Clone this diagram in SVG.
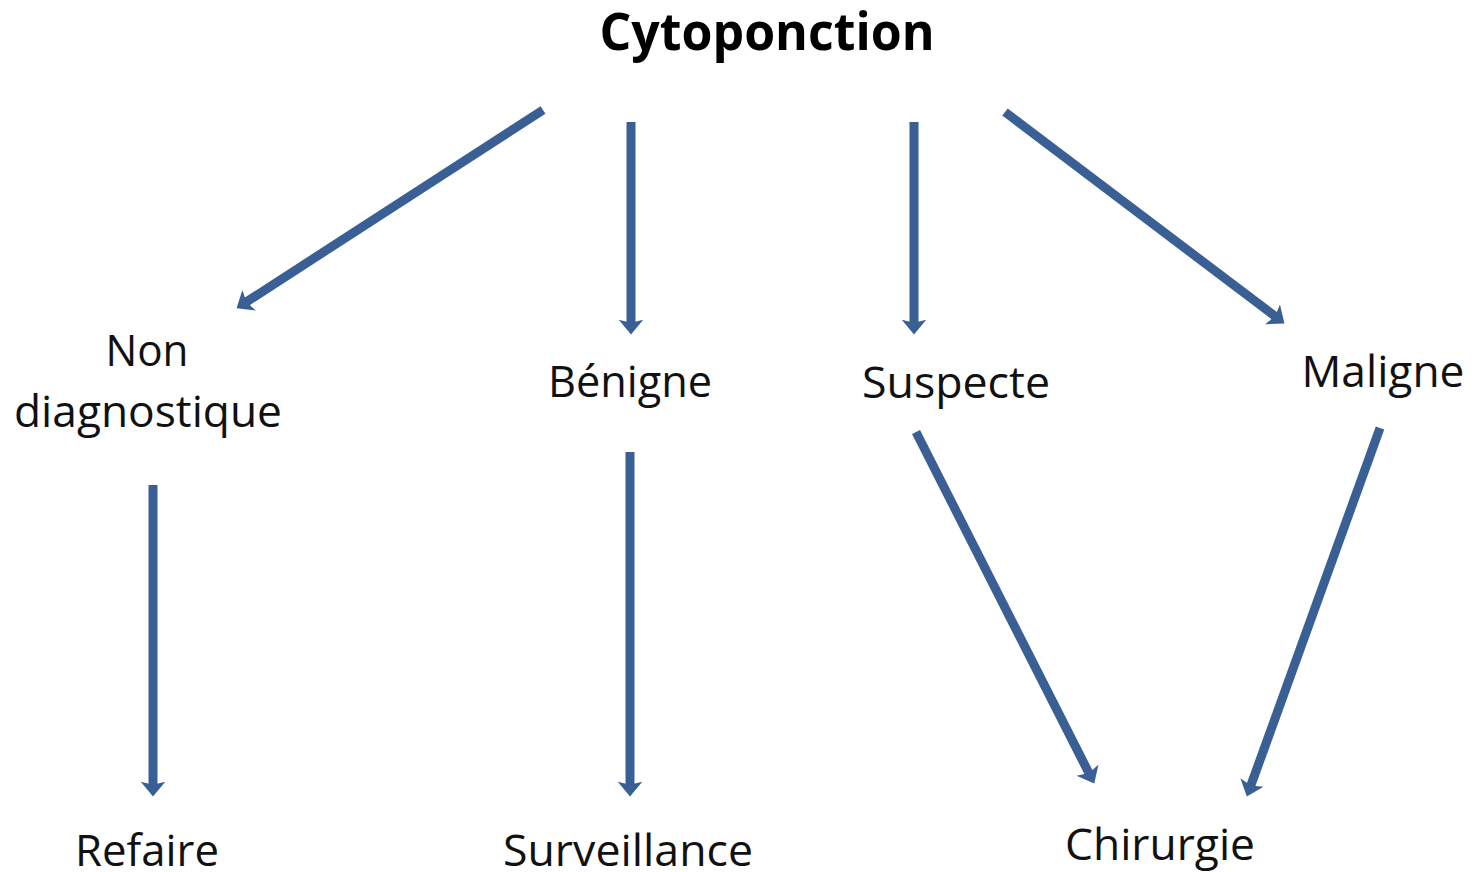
<svg xmlns="http://www.w3.org/2000/svg" width="1480" height="872" viewBox="0 0 1480 872">
  <style>
    .lbl { font-family: "Open Sans", "Liberation Sans", sans-serif; font-size: 44px; fill: #111; text-anchor: middle; }
    .title { font-family: "Open Sans", "Liberation Sans", sans-serif; font-size: 52px; font-weight: bold; fill: #000; text-anchor: middle; }
    .arrow { stroke: #3a5f94; stroke-width: 9; fill: none; stroke-linecap: butt; marker-end: url(#head); }
  </style>
  <defs>
    <marker id="head" markerUnits="userSpaceOnUse" markerWidth="16" markerHeight="26" viewBox="0 -12 15 24" refX="5" refY="0" orient="auto" overflow="visible">
      <path d="M0,-11.5 L14,0 L0,11.5 L3,0 Z" fill="#3a5f94"/>
    </marker>
  </defs>
  <rect width="1480" height="872" fill="#fff"/>

  <g id="connectors">
    <line class="arrow" x1="543" y1="110" x2="244.6" y2="303.1"/>
    <line class="arrow" x1="631" y1="122" x2="631" y2="325"/>
    <line class="arrow" x1="914" y1="122" x2="914" y2="325"/>
    <line class="arrow" x1="1005" y1="112" x2="1276.8" y2="317.6"/>
    <line class="arrow" x1="153" y1="485" x2="153" y2="787"/>
    <line class="arrow" x1="630" y1="452" x2="630" y2="787"/>
    <line class="arrow" x1="916" y1="432" x2="1089.9" y2="775"/>
    <line class="arrow" x1="1380" y1="428" x2="1250.1" y2="787.5"/>
  </g>

  <g id="cytoponction">
    <text class="title" x="767" y="50" textLength="335" lengthAdjust="spacingAndGlyphs">Cytoponction</text>
  </g>
  <g id="non-diagnostique">
    <text class="lbl" x="147" y="366" textLength="83" lengthAdjust="spacingAndGlyphs">Non</text>
    <text class="lbl" x="148" y="427" textLength="268" lengthAdjust="spacingAndGlyphs">diagnostique</text>
  </g>
  <g id="benigne">
    <text class="lbl" x="630" y="397" textLength="164" lengthAdjust="spacingAndGlyphs">Bénigne</text>
  </g>
  <g id="suspecte">
    <text class="lbl" x="956" y="398" textLength="188" lengthAdjust="spacingAndGlyphs">Suspecte</text>
  </g>
  <g id="maligne">
    <text class="lbl" x="1383" y="387" textLength="163" lengthAdjust="spacingAndGlyphs">Maligne</text>
  </g>
  <g id="refaire">
    <text class="lbl" x="147" y="866" textLength="144" lengthAdjust="spacingAndGlyphs">Refaire</text>
  </g>
  <g id="surveillance">
    <text class="lbl" x="628" y="866" textLength="250" lengthAdjust="spacingAndGlyphs">Surveillance</text>
  </g>
  <g id="chirurgie">
    <text class="lbl" x="1160" y="860" textLength="190" lengthAdjust="spacingAndGlyphs">Chirurgie</text>
  </g>
</svg>
